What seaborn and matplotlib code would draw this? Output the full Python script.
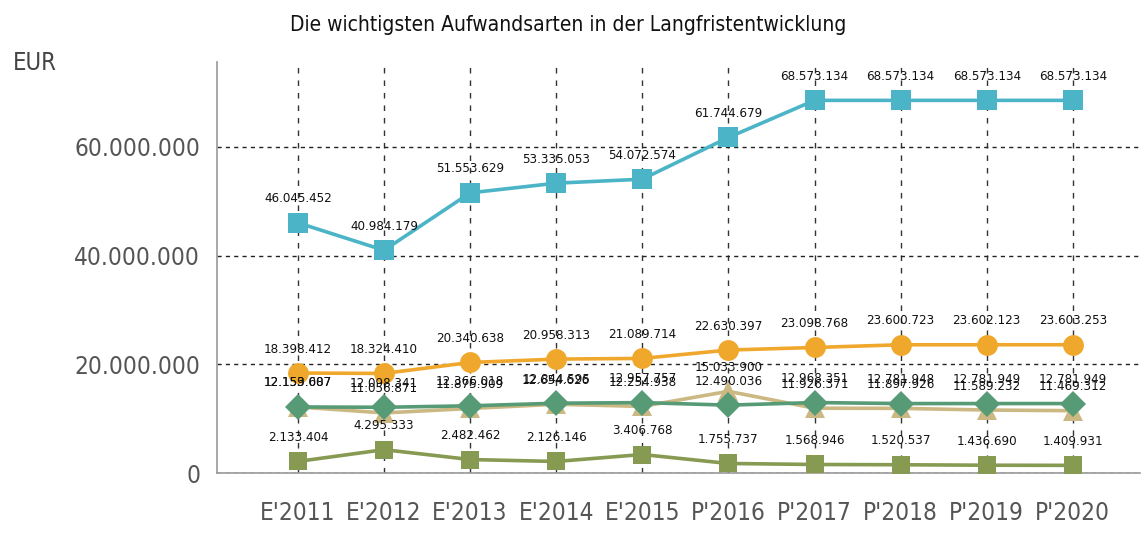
import numpy as np
import pandas as pd
import seaborn as sns
from matplotlib import pyplot as plt

years = ["E'2011", "E'2012", "E'2013", "E'2014", "E'2015",
         "P'2016", "P'2017", "P'2018", "P'2019", "P'2020"]

teal_vals = [46045452, 40984179, 51553629, 53335053, 54072574,
             61744679, 68573134, 68573134, 68573134, 68573134]
orange_vals = [18398412, 18324410, 20340638, 20958313, 21089714,
               22630397, 23098768, 23600723, 23602123, 23603253]
green_vals = [12153687, 12098341, 12366018, 12844595, 12957757,
              12490036, 12968351, 12781948, 12781949, 12781949]
tan_vals = [12159007, 11056871, 11875909, 12654626, 12254938,
            15033900, 11926371, 11897926, 11589232, 11469312]
olive_vals = [2133404, 4295333, 2482462, 2126146, 3406768,
              1755737, 1568946, 1520537, 1436690, 1409931]

series_names = ["s1", "s2", "s3", "s4", "s5"]
series_vals = [teal_vals, orange_vals, green_vals, tan_vals, olive_vals]

rows = []
for name, vals in zip(series_names, series_vals):
    for i, v in enumerate(vals):
        rows.append({"pos": i, "serie": name, "value": v})
df = pd.DataFrame(rows)

colors = {"s1": "#4BB4C7", "s2": "#EFA82C", "s3": "#579A76", "s4": "#CBB882", "s5": "#879A52"}
markers = {"s1": "s", "s2": "o", "s3": "D", "s4": "^", "s5": "s"}
msize = {"s1": 14, "s2": 15, "s3": 13, "s4": 14, "s5": 13}
draw_order = ["s4", "s3", "s5", "s2", "s1"]

sns.set_theme(style="white")
plt.rcParams['font.family'] = ['DejaVu Sans']
plt.rcParams['font.stretch'] = 'condensed'

fig = plt.figure(figsize=(11.48, 5.36), dpi=100)
ax = fig.add_axes([0.189, 0.1175, 0.804, 0.7665])

for name in draw_order:
    sub = df[df["serie"] == name]
    sns.lineplot(data=sub, x="pos", y="value", color=colors[name], marker=markers[name],
                 markersize=msize[name], markeredgewidth=0, linewidth=2.6, ax=ax,
                 legend=False, zorder=3)

# value labels above every point
for name, vals in zip(series_names, series_vals):
    for i, v in enumerate(vals):
        txt = f"{v:,}".replace(",", ".")
        ax.annotate(txt, (i, v), xytext=(0, 24), textcoords="offset pixels",
                    ha="center", va="center", fontsize=9.5, color="#111111", zorder=5)

ax.set_xlim(-0.94, 9.78)
ax.set_ylim(0, 75600000)
ax.set_xticks(range(len(years)))
ax.set_xticklabels(years)
ax.set_yticks([0, 20000000, 40000000, 60000000])
ax.set_yticklabels([f"{t:,}".replace(",", ".") for t in [0, 20000000, 40000000, 60000000]])
ax.tick_params(axis="both", labelsize=17.5, colors="#555555", length=0)
ax.tick_params(axis="x", pad=20)
ax.tick_params(axis="y", pad=12)

ax.grid(True, axis="x", linestyle=(0, (4, 5)), color="#333333", linewidth=1)
ax.grid(True, axis="y", linestyle=(0, (3, 3)), color="#222222", linewidth=1)
ax.set_axisbelow(True)
ax.set_xlabel("")
ax.set_ylabel("")

for side in ["top", "right"]:
    ax.spines[side].set_visible(False)
for side in ["left", "bottom"]:
    ax.spines[side].set_color("#999999")
    ax.spines[side].set_linewidth(1.2)

fig.text(0.4948, 0.953, "Die wichtigsten Aufwandsarten in der Langfristentwicklung",
         ha="center", va="center", fontsize=15, color="#111111")
fig.text(0.011, 0.883, "EUR", ha="left", va="center", fontsize=17, color="#444444")

fig.savefig("out.png", dpi=100)
